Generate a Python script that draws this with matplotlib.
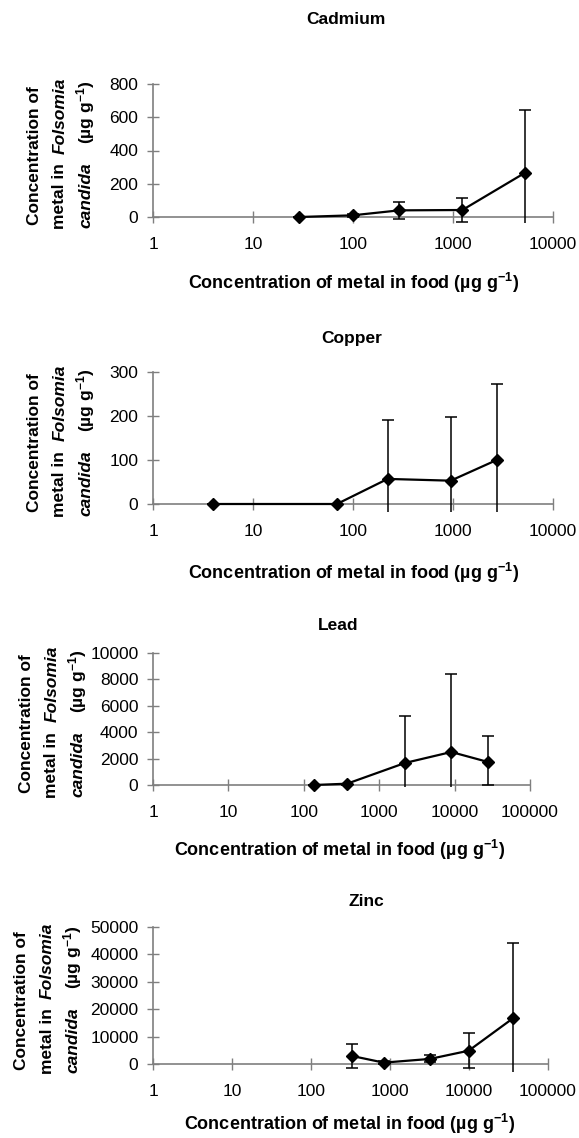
import matplotlib
matplotlib.use("Agg")
import matplotlib.pyplot as plt
from matplotlib.transforms import Bbox, TransformedBbox

plt.rcParams['font.family'] = ['Liberation Sans', 'DejaVu Sans']
plt.rcParams['mathtext.fontset'] = 'custom'
plt.rcParams['mathtext.rm'] = 'Liberation Sans:bold'
plt.rcParams['mathtext.it'] = 'Liberation Sans:italic:bold'
plt.rcParams['mathtext.bf'] = 'Liberation Sans:bold'

# data: food concentration, body concentration, error (down, up)
cd_food = [29, 99, 290, 1240, 5250]
cd_body = [0, 10, 40, 42, 266]
cd_err_lo = [0, 10, 52, 70, 378]
cd_err_hi = [0, 10, 52, 70, 378]

cu_food = [4.0, 69, 222, 948, 2735]
cu_body = [0, 0, 57, 53, 100]
cu_err_lo = [0, 0, 133, 145, 173]
cu_err_hi = [0, 0, 133, 145, 173]

pb_food = [136, 375, 2200, 9040, 27900]
pb_body = [0, 100, 1670, 2500, 1740]
pb_err_lo = [0, 100, 3530, 5880, 1740]
pb_err_hi = [0, 0, 3530, 5880, 1970]

zn_food = [334, 833, 3200, 9900, 36000]
zn_body = [2900, 500, 1850, 4850, 16670]
zn_err_lo = [4400, 500, 1300, 6350, 27600]
zn_err_hi = [4400, 500, 1300, 6350, 27600]

titles = ['Cadmium', 'Copper', 'Lead', 'Zinc']
y_max = [800, 300, 10000, 50000]
y_step = [200, 100, 2000, 10000]
x_max = [1e4, 1e4, 1e5, 1e5]

W, H = 579, 1138
# pixel boxes: left, right, bottom (y=0), top
boxes = [(153, 553, 217, 84), (153, 553, 504, 372),
         (153, 530, 785, 653), (153, 548, 1064, 927)]
title_xy = [(346, 20), (352, 338), (338, 625), (366, 902)]
xlabel_xy = [(354, 283), (354, 573), (340, 850), (350, 1124)]
ylab_shift = [0, 0, -8, -13]
clip_below = [6, 8, 1.5, 8]

series = [(cd_food, cd_body, cd_err_lo, cd_err_hi),
          (cu_food, cu_body, cu_err_lo, cu_err_hi),
          (pb_food, pb_body, pb_err_lo, pb_err_hi),
          (zn_food, zn_body, zn_err_lo, zn_err_hi)]

grey = '#7f7f7f'
fig = plt.figure(figsize=(W / 100, H / 100), dpi=100)


def fx(px):
    return px / W


def fy(py):
    return 1 - py / H


for i in range(4):
    l, r, b, t = boxes[i]
    ax = fig.add_axes([fx(l), fy(b), fx(r - l), (b - t) / H])
    food, body, lo, hi = series[i]

    cont = ax.errorbar(food, body, yerr=[lo, hi], color='black', lw=1.6,
                       marker='D', ms=6.5, ecolor='black', elinewidth=1.1,
                       capsize=4, capthick=1.1, zorder=3)
    cont[0].set_clip_on(False)
    # error bars are cut a few pixels under the x axis, as in the original
    clip = TransformedBbox(Bbox([[fx(l - 10), fy(b + clip_below[i])], [fx(r + 10), fy(t - 10)]]),
                           fig.transFigure)
    for art in list(cont[1]) + list(cont[2]):
        art.set_clip_box(clip)

    ax.set_xscale('log')
    ax.set_xlim(1, x_max[i])
    ax.set_ylim(0, y_max[i])
    xt = [10 ** k for k in range(len(str(int(x_max[i]))))]
    ax.set_xticks(xt)
    ax.set_xticklabels([str(v) for v in xt])
    ax.xaxis.set_minor_locator(matplotlib.ticker.NullLocator())
    yt = list(range(0, y_max[i] + 1, y_step[i]))
    ax.set_yticks(yt)
    ax.set_yticklabels([str(v) for v in yt])

    for s in ['top', 'right']:
        ax.spines[s].set_visible(False)
    for s in ['left', 'bottom']:
        ax.spines[s].set_color(grey)
        ax.spines[s].set_linewidth(1.2)
    ax.tick_params(direction='inout', length=9, width=1, color=grey,
                   labelsize=12.5, labelcolor='black')
    ax.tick_params(axis='x', pad=10)
    ax.tick_params(axis='y', pad=6)
    ax.patch.set_alpha(0)

    cy = (b + t) / 2
    dx = ylab_shift[i]
    fig.text(fx(title_xy[i][0]), fy(title_xy[i][1]), titles[i], fontsize=12.5,
             fontweight='bold', ha='center', va='center')
    fig.text(fx(xlabel_xy[i][0]), fy(xlabel_xy[i][1]),
             'Concentration of metal in food (µg g$^{-1}$)',
             fontsize=13, fontweight='bold', ha='center', va='center')
    ylab = dict(fontsize=12.5, fontweight='bold', rotation=90, ha='center', va='center')
    fig.text(fx(35 + dx), fy(cy + 5), 'Concentration of', **ylab)
    fig.text(fx(60 + dx), fy(cy + 46), 'metal in', **ylab)
    fig.text(fx(60 + dx), fy(cy - 35), 'Folsomia', style='italic', **ylab)
    fig.text(fx(86 + dx), fy(cy + 45), 'candida', style='italic', **ylab)
    fig.text(fx(86 + dx), fy(cy - 38), '(µg g$^{-1}$)', **ylab)

fig.savefig('out.png', dpi=100)
